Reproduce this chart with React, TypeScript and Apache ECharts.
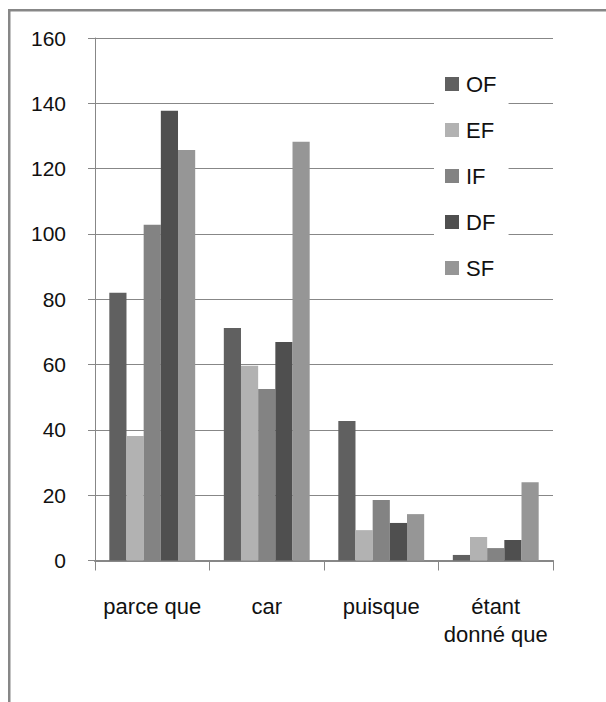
import React, { useEffect, useRef } from "react";
import * as echarts from "echarts";

const categories = ["parce que", "car", "puisque", "étant donné que"];
const seriesNames = ["OF", "EF", "IF", "DF", "SF"];
const valuesOF = [82, 71.2, 42.7, 1.7];
const valuesEF = [38.1, 59.6, 9.3, 7.2];
const valuesIF = [102.8, 52.5, 18.5, 3.8];
const valuesDF = [137.7, 66.9, 11.5, 6.3];
const valuesSF = [125.7, 128.2, 14.2, 24.0];
const colors = ["#606060", "#b2b2b2", "#838383", "#4f4f4f", "#969696"];
const yTicks = { min: 0, max: 160, interval: 20 };

const FONT = "'Liberation Sans', Arial, sans-serif";

export default function App() {
  const ref = useRef<HTMLDivElement>(null);
  useEffect(() => {
    if (!ref.current) return;
    const chart = echarts.init(ref.current, undefined, { renderer: "svg" });
    const allValues = [valuesOF, valuesEF, valuesIF, valuesDF, valuesSF];
    chart.setOption({
      animation: false,
      backgroundColor: "#ffffff",
      textStyle: { fontFamily: FONT },
      graphic: [
        {
          type: "rect",
          z: 100,
          silent: true,
          shape: { x: 9.25, y: 10.25, width: 1200, height: 1200 },
          style: { fill: "none", stroke: "#878787", lineWidth: 2.5 },
        },
      ],
      grid: { left: 95, right: 53, top: 38, bottom: 141.5, containLabel: false },
      legend: {
        orient: "vertical",
        left: 434,
        top: 62,
        data: seriesNames,
        icon: "rect",
        itemWidth: 14,
        itemHeight: 14,
        itemGap: 22,
        backgroundColor: "#ffffff",
        padding: [10, 12, 10, 11],
        textStyle: {
          fontFamily: FONT,
          fontSize: 22,
          color: "#111",
          lineHeight: 24,
          padding: [0, 0, 0, 2],
        },
      },
      xAxis: {
        type: "category",
        data: categories,
        axisLine: { show: true, lineStyle: { color: "#878787", width: 2 } },
        axisTick: { show: true, length: 10, lineStyle: { color: "#878787", width: 1 } },
        axisLabel: {
          margin: 32,
          fontFamily: FONT,
          fontSize: 22,
          color: "#111",
          lineHeight: 28,
          interval: 0,
          formatter: (v: string) => (v === "étant donné que" ? "étant\ndonné que" : v),
        },
        splitLine: { show: false },
      },
      yAxis: {
        type: "value",
        min: yTicks.min,
        max: yTicks.max,
        interval: yTicks.interval,
        axisLine: { show: true, lineStyle: { color: "#878787", width: 1 } },
        axisTick: { show: true, length: 7, lineStyle: { color: "#878787", width: 1 } },
        axisLabel: {
          margin: 29,
          fontFamily: FONT,
          fontSize: 21,
          color: "#111",
        },
        splitLine: { show: true, lineStyle: { color: "#878787", width: 1.2 } },
      },
      series: seriesNames.map((name, i) => ({
        name,
        type: "bar",
        data: allValues[i],
        barGap: "0%",
        barCategoryGap: "25%",
        itemStyle: { color: colors[i] },
      })),
    });
    return () => chart.dispose();
  }, []);
  return (
    <div
      ref={ref}
      style={{ position: "absolute", left: 0, top: 0, width: 606, height: 702 }}
    />
  );
}
